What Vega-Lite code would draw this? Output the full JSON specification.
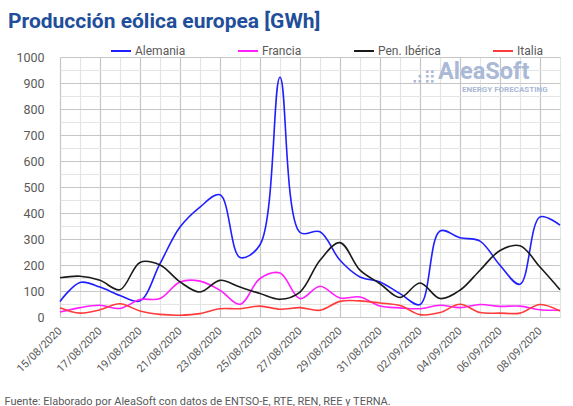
{
  "$schema": "https://vega.github.io/schema/vega-lite/v6.json",
  "width": 500,
  "height": 260,
  "autosize": "none",
  "padding": {"left": 60, "top": 57, "right": 13, "bottom": 89},
  "background": "white",
  "title": {
    "text": "Producción eólica europea [GWh]",
    "anchor": "start",
    "frame": "group",
    "dx": -52,
    "offset": 8,
    "font": "Roboto",
    "fontSize": 21,
    "fontWeight": "bold",
    "color": "#1f4e9a"
  },
  "config": {"view": {"stroke": null}, "font": "Roboto"},
  "datasets": {
    "series": [
      {"fecha": "2020-08-15", "serie": "Alemania", "valor": 60},
      {"fecha": "2020-08-16", "serie": "Alemania", "valor": 133},
      {"fecha": "2020-08-17", "serie": "Alemania", "valor": 115},
      {"fecha": "2020-08-18", "serie": "Alemania", "valor": 83},
      {"fecha": "2020-08-19", "serie": "Alemania", "valor": 62},
      {"fecha": "2020-08-20", "serie": "Alemania", "valor": 205},
      {"fecha": "2020-08-21", "serie": "Alemania", "valor": 346},
      {"fecha": "2020-08-22", "serie": "Alemania", "valor": 423},
      {"fecha": "2020-08-23", "serie": "Alemania", "valor": 470},
      {"fecha": "2020-08-24", "serie": "Alemania", "valor": 229},
      {"fecha": "2020-08-25", "serie": "Alemania", "valor": 278},
      {"fecha": "2020-08-26", "serie": "Alemania", "valor": 922},
      {"fecha": "2020-08-27", "serie": "Alemania", "valor": 325},
      {"fecha": "2020-08-28", "serie": "Alemania", "valor": 328},
      {"fecha": "2020-08-29", "serie": "Alemania", "valor": 218},
      {"fecha": "2020-08-30", "serie": "Alemania", "valor": 154},
      {"fecha": "2020-08-31", "serie": "Alemania", "valor": 135},
      {"fecha": "2020-09-01", "serie": "Alemania", "valor": 90},
      {"fecha": "2020-09-02", "serie": "Alemania", "valor": 48},
      {"fecha": "2020-09-03", "serie": "Alemania", "valor": 331},
      {"fecha": "2020-09-04", "serie": "Alemania", "valor": 305},
      {"fecha": "2020-09-05", "serie": "Alemania", "valor": 292},
      {"fecha": "2020-09-06", "serie": "Alemania", "valor": 199},
      {"fecha": "2020-09-07", "serie": "Alemania", "valor": 126},
      {"fecha": "2020-09-08", "serie": "Alemania", "valor": 385},
      {"fecha": "2020-09-09", "serie": "Alemania", "valor": 353},
      {"fecha": "2020-08-15", "serie": "Francia", "valor": 19},
      {"fecha": "2020-08-16", "serie": "Francia", "valor": 36},
      {"fecha": "2020-08-17", "serie": "Francia", "valor": 45},
      {"fecha": "2020-08-18", "serie": "Francia", "valor": 33},
      {"fecha": "2020-08-19", "serie": "Francia", "valor": 67},
      {"fecha": "2020-08-20", "serie": "Francia", "valor": 71},
      {"fecha": "2020-08-21", "serie": "Francia", "valor": 135},
      {"fecha": "2020-08-22", "serie": "Francia", "valor": 138},
      {"fecha": "2020-08-23", "serie": "Francia", "valor": 103},
      {"fecha": "2020-08-24", "serie": "Francia", "valor": 49},
      {"fecha": "2020-08-25", "serie": "Francia", "valor": 148},
      {"fecha": "2020-08-26", "serie": "Francia", "valor": 169},
      {"fecha": "2020-08-27", "serie": "Francia", "valor": 71},
      {"fecha": "2020-08-28", "serie": "Francia", "valor": 118},
      {"fecha": "2020-08-29", "serie": "Francia", "valor": 73},
      {"fecha": "2020-08-30", "serie": "Francia", "valor": 77},
      {"fecha": "2020-08-31", "serie": "Francia", "valor": 42},
      {"fecha": "2020-09-01", "serie": "Francia", "valor": 35},
      {"fecha": "2020-09-02", "serie": "Francia", "valor": 32},
      {"fecha": "2020-09-03", "serie": "Francia", "valor": 45},
      {"fecha": "2020-09-04", "serie": "Francia", "valor": 36},
      {"fecha": "2020-09-05", "serie": "Francia", "valor": 48},
      {"fecha": "2020-09-06", "serie": "Francia", "valor": 41},
      {"fecha": "2020-09-07", "serie": "Francia", "valor": 42},
      {"fecha": "2020-09-08", "serie": "Francia", "valor": 28},
      {"fecha": "2020-09-09", "serie": "Francia", "valor": 26},
      {"fecha": "2020-08-15", "serie": "Pen. Ibérica", "valor": 151},
      {"fecha": "2020-08-16", "serie": "Pen. Ibérica", "valor": 157},
      {"fecha": "2020-08-17", "serie": "Pen. Ibérica", "valor": 141},
      {"fecha": "2020-08-18", "serie": "Pen. Ibérica", "valor": 105},
      {"fecha": "2020-08-19", "serie": "Pen. Ibérica", "valor": 210},
      {"fecha": "2020-08-20", "serie": "Pen. Ibérica", "valor": 200},
      {"fecha": "2020-08-21", "serie": "Pen. Ibérica", "valor": 135},
      {"fecha": "2020-08-22", "serie": "Pen. Ibérica", "valor": 96},
      {"fecha": "2020-08-23", "serie": "Pen. Ibérica", "valor": 141},
      {"fecha": "2020-08-24", "serie": "Pen. Ibérica", "valor": 115},
      {"fecha": "2020-08-25", "serie": "Pen. Ibérica", "valor": 90},
      {"fecha": "2020-08-26", "serie": "Pen. Ibérica", "valor": 68},
      {"fecha": "2020-08-27", "serie": "Pen. Ibérica", "valor": 96},
      {"fecha": "2020-08-28", "serie": "Pen. Ibérica", "valor": 218},
      {"fecha": "2020-08-29", "serie": "Pen. Ibérica", "valor": 286},
      {"fecha": "2020-08-30", "serie": "Pen. Ibérica", "valor": 180},
      {"fecha": "2020-08-31", "serie": "Pen. Ibérica", "valor": 128},
      {"fecha": "2020-09-01", "serie": "Pen. Ibérica", "valor": 75},
      {"fecha": "2020-09-02", "serie": "Pen. Ibérica", "valor": 131},
      {"fecha": "2020-09-03", "serie": "Pen. Ibérica", "valor": 71},
      {"fecha": "2020-09-04", "serie": "Pen. Ibérica", "valor": 103},
      {"fecha": "2020-09-05", "serie": "Pen. Ibérica", "valor": 180},
      {"fecha": "2020-09-06", "serie": "Pen. Ibérica", "valor": 256},
      {"fecha": "2020-09-07", "serie": "Pen. Ibérica", "valor": 274},
      {"fecha": "2020-09-08", "serie": "Pen. Ibérica", "valor": 192},
      {"fecha": "2020-09-09", "serie": "Pen. Ibérica", "valor": 105},
      {"fecha": "2020-08-15", "serie": "Italia", "valor": 36},
      {"fecha": "2020-08-16", "serie": "Italia", "valor": 15},
      {"fecha": "2020-08-17", "serie": "Italia", "valor": 28},
      {"fecha": "2020-08-18", "serie": "Italia", "valor": 51},
      {"fecha": "2020-08-19", "serie": "Italia", "valor": 23},
      {"fecha": "2020-08-20", "serie": "Italia", "valor": 10},
      {"fecha": "2020-08-21", "serie": "Italia", "valor": 7},
      {"fecha": "2020-08-22", "serie": "Italia", "valor": 13},
      {"fecha": "2020-08-23", "serie": "Italia", "valor": 32},
      {"fecha": "2020-08-24", "serie": "Italia", "valor": 32},
      {"fecha": "2020-08-25", "serie": "Italia", "valor": 42},
      {"fecha": "2020-08-26", "serie": "Italia", "valor": 30},
      {"fecha": "2020-08-27", "serie": "Italia", "valor": 36},
      {"fecha": "2020-08-28", "serie": "Italia", "valor": 26},
      {"fecha": "2020-08-29", "serie": "Italia", "valor": 60},
      {"fecha": "2020-08-30", "serie": "Italia", "valor": 62},
      {"fecha": "2020-08-31", "serie": "Italia", "valor": 54},
      {"fecha": "2020-09-01", "serie": "Italia", "valor": 44},
      {"fecha": "2020-09-02", "serie": "Italia", "valor": 9},
      {"fecha": "2020-09-03", "serie": "Italia", "valor": 17},
      {"fecha": "2020-09-04", "serie": "Italia", "valor": 49},
      {"fecha": "2020-09-05", "serie": "Italia", "valor": 17},
      {"fecha": "2020-09-06", "serie": "Italia", "valor": 15},
      {"fecha": "2020-09-07", "serie": "Italia", "valor": 15},
      {"fecha": "2020-09-08", "serie": "Italia", "valor": 48},
      {"fecha": "2020-09-09", "serie": "Italia", "valor": 23}
    ],
    "logo": [
      {"fecha": "2020-09-02T19:12:00Z", "valor": 915, "texto": "⣠⣶", "parte": "dots"},
      {"fecha": "2020-09-02T21:36:00Z", "valor": 915, "texto": "AleaSoft", "parte": "name"},
      {"fecha": "2020-09-04T02:24:00Z", "valor": 866, "texto": "ENERGY FORECASTING", "parte": "tag"}
    ]
  },
  "encoding": {
    "x": {
      "field": "fecha",
      "type": "temporal",
      "scale": {"type": "utc", "domain": [1597449600000, 1599609600000], "nice": false},
      "axis": {
        "values": [1597449600000, 1597536000000, 1597622400000, 1597708800000, 1597795200000, 1597881600000, 1597968000000, 1598054400000, 1598140800000, 1598227200000, 1598313600000, 1598400000000, 1598486400000, 1598572800000, 1598659200000, 1598745600000, 1598832000000, 1598918400000, 1599004800000, 1599091200000, 1599177600000, 1599264000000, 1599350400000, 1599436800000, 1599523200000, 1599609600000],
        "labelExpr": "round((datum.value - 1597449600000) / 86400000) % 2 == 0 ? utcFormat(datum.value, '%d/%m/%Y') : ''",
        "labelAngle": -45,
        "labelAlign": "right",
        "labelBaseline": "middle",
        "labelPadding": 12,
        "labelFontSize": 11,
        "labelColor": "#595959",
        "labelFont": "Roboto",
        "labelOverlap": false,
        "labelFlush": false,
        "ticks": false,
        "domain": false,
        "grid": true,
        "gridWidth": 1.2,
        "gridColor": {"condition": {"test": "round((datum.value - 1597449600000) / 86400000) % 2 == 0", "value": "#c6c6c6"}, "value": "#e4e4e4"},
        "title": "Fuente: Elaborado por AleaSoft con datos de ENTSO-E, RTE, REN, REE y TERNA.",
        "titleFont": "Roboto",
        "titleFontSize": 11,
        "titleFontWeight": "normal",
        "titleColor": "#595959",
        "titleAlign": "left",
        "titleAnchor": "start",
        "titleBaseline": "alphabetic",
        "titleX": -56,
        "titleY": 87
      }
    },
    "y": {
      "field": "valor",
      "type": "quantitative",
      "scale": {"domain": [0, 1000], "nice": false, "zero": true},
      "axis": {
        "values": [0, 50, 100, 150, 200, 250, 300, 350, 400, 450, 500, 550, 600, 650, 700, 750, 800, 850, 900, 950, 1000],
        "labelExpr": "datum.value % 100 == 0 ? datum.label : ''",
        "format": "d",
        "labelFontSize": 12.5,
        "labelColor": "#595959",
        "labelFont": "Roboto",
        "labelPadding": 16,
        "ticks": false,
        "domain": false,
        "grid": true,
        "gridWidth": 1.2,
        "gridColor": {"condition": {"test": "datum.value % 100 == 0", "value": "#c6c6c6"}, "value": "#e4e4e4"},
        "title": null
      }
    }
  },
  "layer": [
    {
      "data": {"name": "logo"},
      "transform": [{"filter": "datum.parte == 'dots'"}],
      "mark": {"type": "text", "align": "right", "baseline": "alphabetic", "font": "DejaVu Sans", "fontSize": 17, "color": "#a9b9d6"},
      "encoding": {"text": {"field": "texto"}}
    },
    {
      "data": {"name": "logo"},
      "transform": [{"filter": "datum.parte == 'name'"}],
      "mark": {"type": "text", "align": "left", "baseline": "alphabetic", "font": "Roboto", "fontSize": 23.5, "fontWeight": "bold", "color": "#a9b9d6"},
      "encoding": {"text": {"field": "texto"}}
    },
    {
      "data": {"name": "logo"},
      "transform": [{"filter": "datum.parte == 'tag'"}],
      "mark": {"type": "text", "align": "left", "baseline": "alphabetic", "font": "Roboto", "fontSize": 8, "fontWeight": "bold", "color": "#a9b9d6"},
      "encoding": {"text": {"field": "texto"}}
    },
    {
      "data": {"name": "series"},
      "mark": {"type": "line", "interpolate": "catmull-rom", "strokeWidth": 1.6},
      "encoding": {
        "color": {
          "field": "serie",
          "type": "nominal",
          "scale": {"domain": ["Alemania", "Francia", "Pen. Ibérica", "Italia"], "range": ["#1f1fff", "#ff1fff", "#1a1a1a", "#ff3b3b"]},
          "legend": {
            "orient": "none",
            "legendX": 50,
            "legendY": -17,
            "direction": "horizontal",
            "title": null,
            "symbolType": "stroke",
            "symbolSize": 400,
            "symbolStrokeWidth": 2,
            "labelFontSize": 12,
            "labelFont": "Roboto",
            "labelColor": "#595959",
            "labelOffset": 3,
            "columnPadding": 48
          }
        }
      }
    }
  ]
}
